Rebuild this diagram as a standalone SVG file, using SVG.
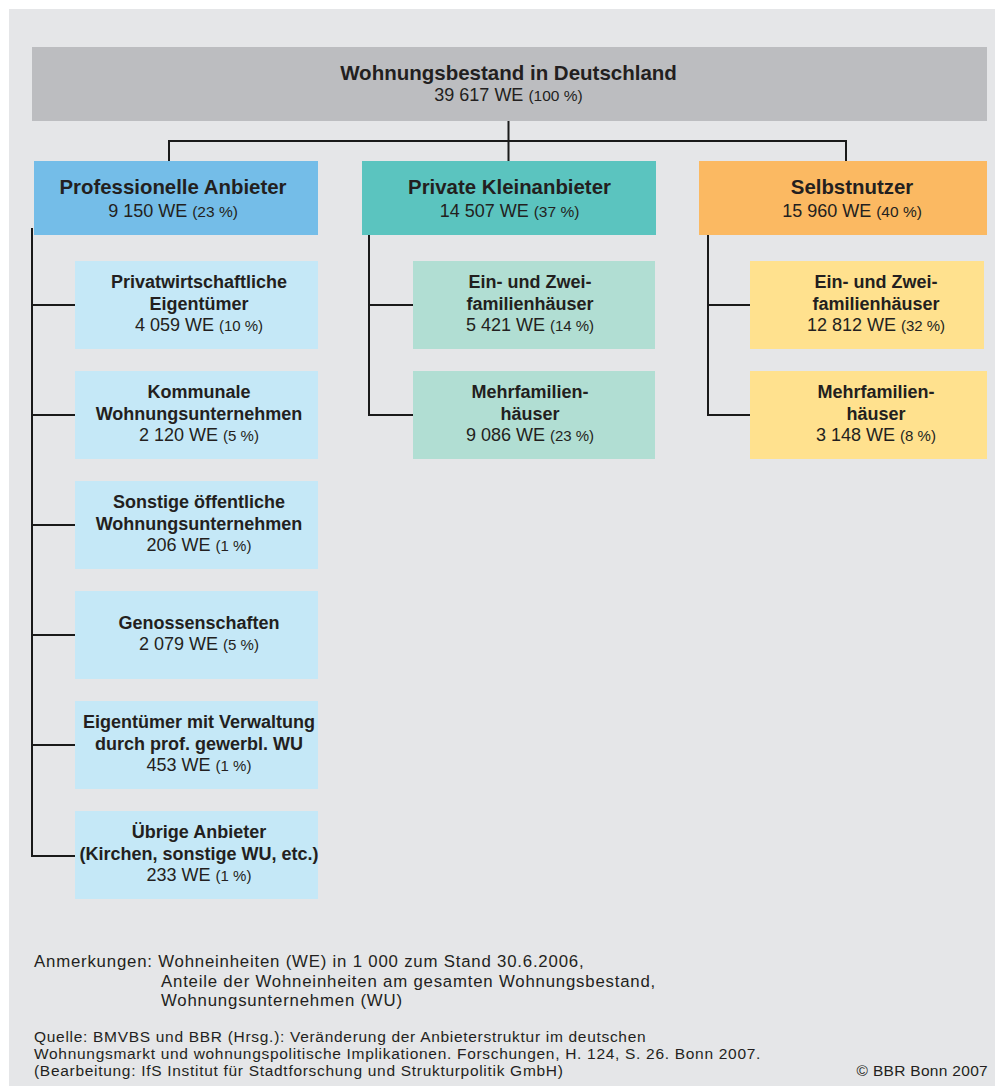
<svg xmlns="http://www.w3.org/2000/svg" width="995" height="1086" viewBox="0 0 995 1086">
<style>
text{font-family:"Liberation Sans",Arial,sans-serif;fill:#231f20;text-anchor:middle}
.t{font-weight:bold;font-size:18px}
.n{font-size:18px}
.p{font-size:15px}
.h{font-weight:bold;font-size:20.4px}
.hn{font-size:18px}
.hp{font-size:15.5px}
.c{stroke:#1a1a1a;stroke-width:2;fill:none}
.f{text-anchor:start;font-size:16.8px;letter-spacing:0.8px}
.q{text-anchor:start;font-size:15.5px;letter-spacing:0.7px}
</style>
<rect x="0" y="0" width="995" height="1086" fill="#ffffff"/>
<rect x="9" y="9" width="986" height="1077" fill="#e5e6e8"/>
<g id="connectors">
<path class="c" d="M508.5 121V161M169 161V141H846V161"/>
<path class="c" d="M32 228V856H75M32 305H75M32 415H75M32 525H75M32 635H75M32 745H75"/>
<path class="c" d="M369 235V415H413M369 305H413"/>
<path class="c" d="M708 235V415H750M708 305H750"/>
</g>
<g id="root">
<rect x="32" y="47" width="955" height="74" fill="#bcbdc0"/>
<text x="508.5" y="80" class="h" style="font-size:20.5px">Wohnungsbestand in Deutschland</text>
<text x="508.5" y="101" class="hn">39 617 WE <tspan class="hp">(100 %)</tspan></text>
</g>
<g id="prof">
<rect x="34" y="161" width="284" height="74" fill="#74bde8"/>
<text x="173" y="194" class="h">Professionelle Anbieter</text>
<text x="173" y="217" class="hn">9 150 WE <tspan class="hp">(23 %)</tspan></text>
</g>
<g id="privat">
<rect x="362" y="161" width="294" height="74" fill="#5bc4bf"/>
<text x="509.5" y="194" class="h">Private Kleinanbieter</text>
<text x="509.5" y="217" class="hn">14 507 WE <tspan class="hp">(37 %)</tspan></text>
</g>
<g id="selbst">
<rect x="699" y="161" width="288" height="74" fill="#fbb962"/>
<text x="852" y="194" class="h">Selbstnutzer</text>
<text x="852" y="217" class="hn">15 960 WE <tspan class="hp">(40 %)</tspan></text>
</g>
<g id="p1">
<rect x="75" y="261" width="243" height="88" fill="#c5e8f7"/>
<text x="199" y="288" class="t">Privatwirtschaftliche</text>
<text x="199" y="310" class="t">Eigentümer</text>
<text x="199" y="331" class="n">4 059 WE <tspan class="p">(10 %)</tspan></text>
</g>
<g id="p2">
<rect x="75" y="371" width="243" height="88" fill="#c5e8f7"/>
<text x="199" y="398" class="t">Kommunale</text>
<text x="199" y="420" class="t">Wohnungsunternehmen</text>
<text x="199" y="441" class="n">2 120 WE <tspan class="p">(5 %)</tspan></text>
</g>
<g id="p3">
<rect x="75" y="481" width="243" height="88" fill="#c5e8f7"/>
<text x="199" y="508" class="t">Sonstige öffentliche</text>
<text x="199" y="530" class="t">Wohnungsunternehmen</text>
<text x="199" y="551" class="n">206 WE <tspan class="p">(1 %)</tspan></text>
</g>
<g id="p4">
<rect x="75" y="591" width="243" height="88" fill="#c5e8f7"/>
<text x="199" y="629" class="t">Genossenschaften</text>
<text x="199" y="650" class="n">2 079 WE <tspan class="p">(5 %)</tspan></text>
</g>
<g id="p5">
<rect x="75" y="701" width="243" height="88" fill="#c5e8f7"/>
<text x="199" y="728" class="t">Eigentümer mit Verwaltung</text>
<text x="199" y="750" class="t">durch prof. gewerbl. WU</text>
<text x="199" y="771" class="n">453 WE <tspan class="p">(1 %)</tspan></text>
</g>
<g id="p6">
<rect x="75" y="811" width="243" height="88" fill="#c5e8f7"/>
<text x="199" y="838" class="t">Übrige Anbieter</text>
<text x="199" y="860" class="t">(Kirchen, sonstige WU, etc.)</text>
<text x="199" y="881" class="n">233 WE <tspan class="p">(1 %)</tspan></text>
</g>
<g id="k1">
<rect x="413" y="261" width="242" height="88" fill="#b1ded3"/>
<text x="530" y="288" class="t">Ein- und Zwei-</text>
<text x="530" y="310" class="t">familienhäuser</text>
<text x="530" y="331" class="n">5 421 WE <tspan class="p">(14 %)</tspan></text>
</g>
<g id="k2">
<rect x="413" y="371" width="242" height="88" fill="#b1ded3"/>
<text x="530" y="398" class="t">Mehrfamilien-</text>
<text x="530" y="420" class="t">häuser</text>
<text x="530" y="441" class="n">9 086 WE <tspan class="p">(23 %)</tspan></text>
</g>
<g id="s1">
<rect x="750" y="261" width="234" height="88" fill="#ffe18e"/>
<text x="876" y="288" class="t">Ein- und Zwei-</text>
<text x="876" y="310" class="t">familienhäuser</text>
<text x="876" y="331" class="n">12 812 WE <tspan class="p">(32 %)</tspan></text>
</g>
<g id="s2">
<rect x="750" y="371" width="237" height="88" fill="#ffe18e"/>
<text x="876" y="398" class="t">Mehrfamilien-</text>
<text x="876" y="420" class="t">häuser</text>
<text x="876" y="441" class="n">3 148 WE <tspan class="p">(8 %)</tspan></text>
</g>
<g id="notes">
<text x="34" y="967" class="f">Anmerkungen: Wohneinheiten (WE) in 1 000 zum Stand 30.6.2006,</text>
<text x="161" y="986.5" class="f">Anteile der Wohneinheiten am gesamten Wohnungsbestand,</text>
<text x="161" y="1006" class="f">Wohnungsunternehmen (WU)</text>
<text x="34" y="1042" class="q">Quelle: BMVBS und BBR (Hrsg.): Veränderung der Anbieterstruktur im deutschen</text>
<text x="34" y="1059" class="q">Wohnungsmarkt und wohnungspolitische Implikationen. Forschungen, H. 124, S. 26. Bonn 2007.</text>
<text x="34" y="1076" class="q">(Bearbeitung: IfS Institut für Stadtforschung und Strukturpolitik GmbH)</text>
<text x="988" y="1076" class="q" style="text-anchor:end;letter-spacing:0.3px">© BBR Bonn 2007</text>
</g>
</svg>
